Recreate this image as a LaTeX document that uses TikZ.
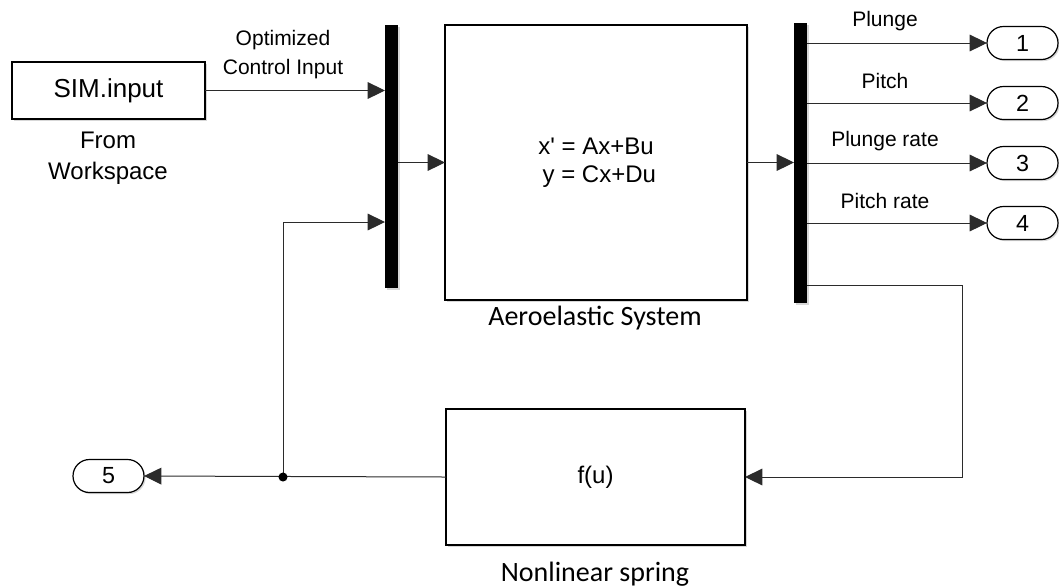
\documentclass[tikz,border=0pt]{standalone}
\usepackage{fontspec}
\setmainfont{Liberation Sans}
\newfontfamily\calfont{Carlito}
\usetikzlibrary{arrows.meta,positioning,shapes.misc,shadows}
\definecolor{wire}{HTML}{2B2B2B}
\definecolor{shade}{HTML}{8C8C8C}
\tikzset{
  simblock/.style={
    rectangle, draw=black, fill=white, line width=1pt,
    inner sep=0pt, outer sep=0pt,
    drop shadow={shadow xshift=1.2pt, shadow yshift=-1.2pt, fill=shade, opacity=0.35}
  },
  muxbar/.style={
    rectangle, fill=black, minimum width=9.75pt, inner sep=0pt, outer sep=0pt,
    drop shadow={shadow xshift=1.2pt, shadow yshift=-1.2pt, fill=shade, opacity=0.35}
  },
  portnode/.style={
    rounded rectangle, draw=black, fill=white, line width=0.9pt,
    minimum width=53.25pt, minimum height=24.75pt, inner sep=0pt, outer sep=0pt,
    font=\fontsize{17.5}{20}\selectfont,
    drop shadow={shadow xshift=1.2pt, shadow yshift=-1.2pt, fill=shade, opacity=0.35}
  },
  sig/.style={
    draw=wire, line width=0.75pt, -{Triangle[length=13pt,width=12.5pt]}
  },
  lbl/.style={
    font=\fontsize{15.75}{21.75}\selectfont, align=center, inner sep=0pt
  },
  biglbl/.style={
    font=\calfont\fontsize{21}{25}\selectfont, inner sep=0pt
  },
}
\begin{document}
\begin{tikzpicture}[x=0.75pt, y=-0.75pt]
  \useasboundingbox (0,0) rectangle (1059,587);

  % Input from workspace
  \node[simblock, minimum width=144.75pt, minimum height=42.75pt,
        font=\fontsize{19.5}{23}\selectfont] (sim) at (108.5,90.5) {SIM.input};
  \node[lbl, font=\fontsize{18}{23.25}\selectfont] (simlbl) at (108,158) {From\\Workspace};
  \node[lbl] (ctrl) at (283,55) {Optimized\\Control Input};

  % Mux, plant, demux
  \node[muxbar, minimum height=197.25pt] (mux) at (391.5,156.5) {};
  \node[simblock, minimum width=226.5pt, minimum height=206.25pt,
        font=\fontsize{18}{21}\selectfont, align=center] (sys) at (596,162.5)
        {x\textquotesingle{} = Ax+Bu\\\ y = Cx+Du};
  \node[biglbl] (syslbl) at (595,318) {Aeroelastic System};
  \node[muxbar, minimum height=210pt] (demux) at (800.5,163) {};

  % Outputs
  \foreach \n/\y/\txt in {1/43/Plunge, 2/103/Pitch, 3/163/Plunge rate, 4/223/Pitch rate} {
    \node[portnode] (out\n) at (1022.5,\y) {\n};
    \node[lbl] (lbl\n) at (885,\y-22) {\txt};
    \draw[sig] (demux.east |- out\n) -- (out\n.west);
  }

  % Nonlinear spring feedback
  \node[simblock, minimum width=224.25pt, minimum height=102pt,
        font=\fontsize{18}{21}\selectfont] (nls) at (595.5,477) {f(u)};
  \node[biglbl] (nlslbl) at (595,574) {Nonlinear spring};
  \node[portnode] (out5) at (108.5,476) {5};

  \coordinate (mux2) at (mux.west |- 0,222);
  \coordinate (dm5) at (demux.east |- 0,285);
  \coordinate (turn) at (962,285);
  \coordinate (jn) at (283,477);

  \draw[sig] (sim.east) -- (sim.east -| mux.west);
  \draw[sig] (mux.east |- sys.west) -- (sys.west);
  \draw[sig] (sys.east) -- (sys.east -| demux.west);
  \draw[sig] (dm5) -- (turn) |- (nls.east);
  \draw[sig] (nls.west) -- (out5.east);
  \draw[sig] (jn) |- (mux2);
  \fill[black] (jn) circle (3.4pt);
\end{tikzpicture}
\end{document}
